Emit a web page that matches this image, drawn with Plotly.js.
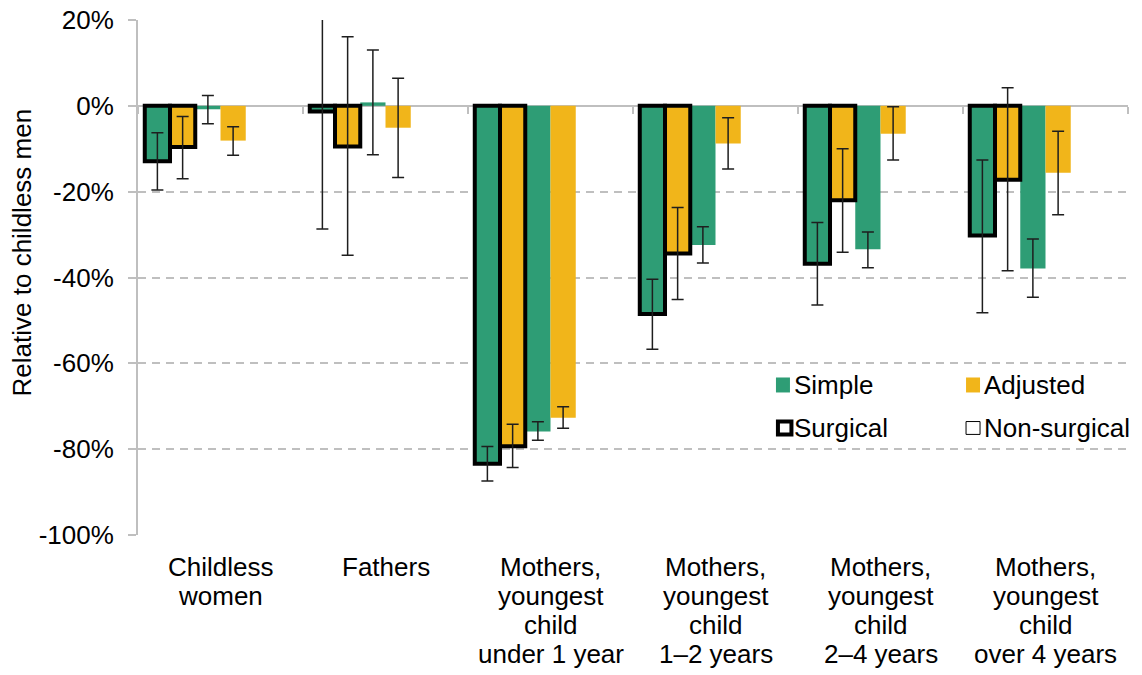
<!DOCTYPE html>
<html>
<head>
<meta charset="utf-8">
<script src="https://cdn.plot.ly/plotly-3.0.1.min.js"></script>
<style>html,body{margin:0;padding:0;background:#fff;}#chart{width:1142px;height:675px;}</style>
</head>
<body>
<div id="chart"></div>
<script>
// ---- Data (percent, relative to childless men) ----
const categories = ["Childless women", "Fathers", "Mothers, youngest child under 1 year",
  "Mothers, youngest child 1–2 years", "Mothers, youngest child 2–4 years", "Mothers, youngest child over 4 years"];
const categoryLines = [
  ["Childless", "women"],
  ["Fathers"],
  ["Mothers,", "youngest", "child", "under 1 year"],
  ["Mothers,", "youngest", "child", "1–2 years"],
  ["Mothers,", "youngest", "child", "2–4 years"],
  ["Mothers,", "youngest", "child", "over 4 years"]
];

const surgSimple   = [-12.9, -1.3, -83.4, -48.5, -36.8, -30.2];
const surgSimpleLo = [-19.6, -28.7, -87.4, -56.7, -46.4, -48.2];
const surgSimpleHi = [-6.3, 26.0, -79.4, -40.4, -27.2, -12.6];

const surgAdj   = [-9.6, -9.5, -79.3, -34.4, -22.0, -17.2];
const surgAdjLo = [-17.0, -34.8, -84.3, -45.1, -34.1, -38.4];
const surgAdjHi = [-2.5, 16.1, -74.2, -23.7, -10.0, 4.2];

const nsSimple   = [-0.8, 0.8, -75.9, -32.4, -33.4, -37.9];
const nsSimpleLo = [-4.2, -11.4, -77.9, -36.6, -37.7, -44.6];
const nsSimpleHi = [2.4, 13.0, -73.6, -28.2, -29.4, -31.0];

const nsAdj   = [-8.1, -5.1, -72.7, -8.8, -6.5, -15.6];
const nsAdjLo = [-11.5, -16.7, -75.1, -14.7, -12.6, -25.4];
const nsAdjHi = [-4.9, 6.4, -70.1, -2.8, -0.2, -5.9];

const yTickVals = [20, 0, -20, -40, -60, -80, -100];
const yTickText = ["20%", "0%", "-20%", "-40%", "-60%", "-80%", "-100%"];
const yTitle = "Relative to childless men";
const legendLabels = ["Simple", "Adjusted", "Surgical", "Non-surgical"];

// ---- Styling ----
const GREEN = "#2E9D75";
const YELLOW = "#F1B51A";
const GRID = "#BFBFBF";
const FONT = "Liberation Sans, Arial, sans-serif";
const FS = 26;
const BW = 0.153;

function errs(v, lo, hi) {
  return {
    type: "data", symmetric: false,
    array: v.map((d, i) => hi[i] - d),
    arrayminus: v.map((d, i) => d - lo[i]),
    color: "#1e1e1e", thickness: 1.5, width: 6
  };
}
function barTrace(name, v, lo, hi, color, offset, outlined) {
  return {
    type: "bar", name: name, x: categories, y: v,
    width: BW, offset: offset,
    marker: { color: color, line: { color: "#000", width: outlined ? 4 : 0 } },
    error_y: errs(v, lo, hi),
    showlegend: false, hoverinfo: "skip"
  };
}

const traces = [
  barTrace("Non-surgical simple", nsSimple, nsSimpleLo, nsSimpleHi, GREEN, -BW, false),
  barTrace("Non-surgical adjusted", nsAdj, nsAdjLo, nsAdjHi, YELLOW, 0, false),
  barTrace("Surgical simple", surgSimple, surgSimpleLo, surgSimpleHi, GREEN, -3 * BW, true),
  barTrace("Surgical adjusted", surgAdj, surgAdjLo, surgAdjHi, YELLOW, -2 * BW, true)
];

// category labels, one annotation per line
const annotations = [];
categoryLines.forEach((lines, i) => {
  lines.forEach((t, k) => {
    annotations.push({
      x: categories[i], xref: "x", y: 0, yref: "paper",
      text: t, showarrow: false, xanchor: "center", yanchor: "middle",
      yshift: -32 - 29 * k,
      font: { family: FONT, size: FS, color: "#000" }
    });
  });
});

// y-axis title
annotations.push({
  x: -0.117, y: 0.549, xref: "paper", yref: "paper",
  text: yTitle, textangle: -90, showarrow: false,
  xanchor: "center", yanchor: "middle",
  font: { family: FONT, size: FS, color: "#000" }
});

// legend (2x2)
const lx1 = 0.6444, lx2 = 0.8364, sq = 0.01414;
const ly1 = 0.2913, ly2 = 0.2078, sqh = 0.0291;
const shapes = [
  { type: "rect", xref: "paper", yref: "paper", x0: lx1, x1: lx1 + sq, y0: ly1 - sqh / 2, y1: ly1 + sqh / 2, fillcolor: GREEN, line: { width: 0 } },
  { type: "rect", xref: "paper", yref: "paper", x0: lx2, x1: lx2 + sq, y0: ly1 - sqh / 2, y1: ly1 + sqh / 2, fillcolor: YELLOW, line: { width: 0 } },
  { type: "rect", xref: "paper", yref: "paper", x0: lx1 + 0.002, x1: lx1 + sq + 0.0015, y0: ly2 - 0.0125, y1: ly2 + 0.0125, fillcolor: "#fff", line: { color: "#000", width: 4 } },
  { type: "rect", xref: "paper", yref: "paper", x0: lx2, x1: lx2 + sq, y0: ly2 - 0.0125, y1: ly2 + 0.0125, fillcolor: "#fff", line: { color: "#000", width: 1 } }
];
[[lx1, ly1, 0], [lx2, ly1, 1], [lx1, ly2, 2], [lx2, ly2, 3]].forEach(([x, y, j]) => {
  annotations.push({
    x: x + sq + 0.002, y: y, xref: "paper", yref: "paper",
    text: legendLabels[j], showarrow: false, xanchor: "left", yanchor: "middle",
    font: { family: FONT, size: FS, color: "#000" }
  });
});

const layout = {
  width: 1142, height: 675,
  margin: { l: 138, r: 14, t: 20, b: 140 },
  paper_bgcolor: "#fff", plot_bgcolor: "#fff",
  barmode: "overlay",
  font: { family: FONT, size: FS, color: "#000" },
  xaxis: {
    type: "category", range: [-0.5, 5.5],
    anchor: "free", position: 100 / 120,
    showline: true, linecolor: GRID, linewidth: 2,
    ticks: "outside", tickson: "boundaries", ticklen: 7, tickwidth: 2, tickcolor: GRID,
    showticklabels: false, showgrid: false, zeroline: false,
    layer: "below traces", fixedrange: true
  },
  yaxis: {
    range: [-100, 20], tickmode: "array", tickvals: yTickVals, ticktext: yTickText,
    showline: true, linecolor: GRID, linewidth: 2,
    ticks: "outside", ticklen: 8, tickwidth: 2, tickcolor: GRID,
    ticklabelstandoff: 9,
    tickfont: { family: FONT, size: FS, color: "#000" },
    showgrid: true, gridcolor: GRID, gridwidth: 2, griddash: "8px,6px",
    zeroline: false, layer: "below traces", fixedrange: true,
    automargin: false
  },
  shapes: shapes,
  annotations: annotations
};

Plotly.newPlot("chart", traces, layout, { staticPlot: true, displayModeBar: false });
</script>
</body>
</html>
